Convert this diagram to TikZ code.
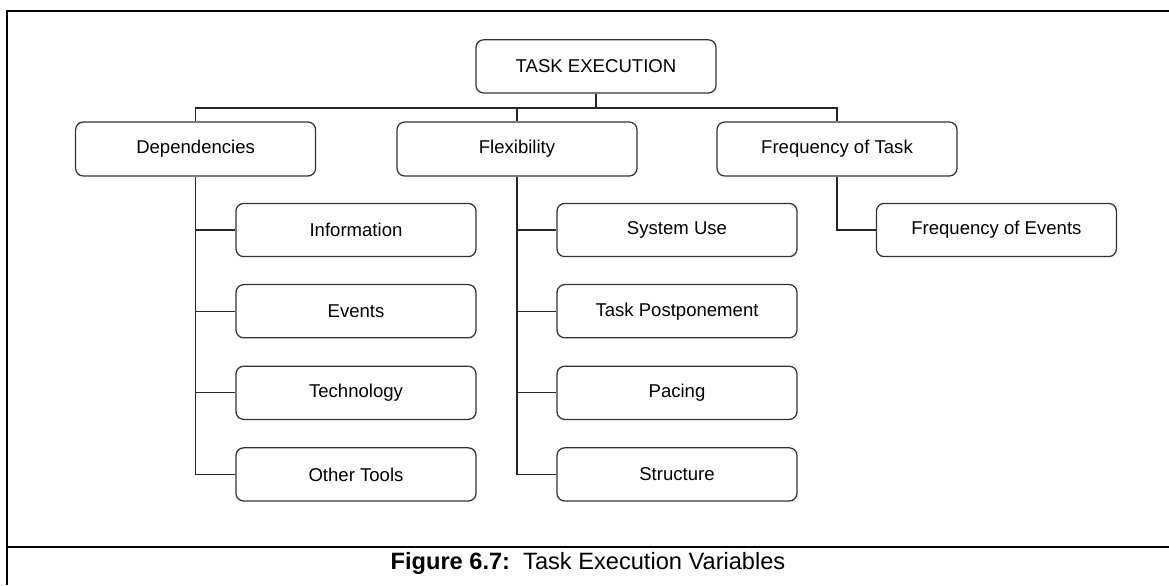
\documentclass[tikz,border=0pt]{standalone}
\usepackage{fontspec}
\setmainfont{Liberation Sans}

\begin{document}
\begin{tikzpicture}[
    box/.style={draw=black!80, line width=0.9pt, rounded corners=5.5pt,
      minimum width=6cm, minimum height=1.33cm,
      font=\fontsize{13.2}{15}\selectfont},
    link/.style={draw=black!85, line width=0.9pt},
    frame/.style={draw=black, line width=1.4pt}
  ]

    \useasboundingbox (0, 0) rectangle (29.225, -14.625);

    \coordinate (RC) at (14.9, -1.66);

    \coordinate (DC) at (4.89, -3.725);
    \coordinate (FC) at (12.925, -3.725);
    \coordinate (QC) at (20.925, -3.725);

    \coordinate (BUS) at (14.9, -2.7);

    \coordinate (FL) at (0.175, -0.275);
    \coordinate (FB) at (0.175, -14.625);
    \coordinate (FR) at (29.225, -0.275);
    \coordinate (SL) at (0.175, -13.675);
    \coordinate (SR) at (29.225, -13.675);

    \draw[frame] (FB) -- (FL) -- (FR);
    \draw[frame] (SL) -- (SR);

    \node[box] (task) at (RC) {TASK EXECUTION};

    \node[box, minimum height=1.35cm] (dep) at (DC) {Dependencies};
    \node[box, minimum height=1.35cm] (flex) at (FC) {Flexibility};
    \node[box, minimum height=1.35cm] (freq) at (QC) {Frequency of Task};

    \node[box] (info) at (8.9, -5.75) {Information};
    \node[box] (events) at (8.9, -7.78) {Events};
    \node[box] (tech) at (8.9, -9.82) {Technology};
    \node[box] (tools) at (8.9, -11.86) {Other Tools};

    \node[box] (sysuse) at (16.925, -5.75) {System Use};
    \node[box] (postpone) at (16.925, -7.78) {Task Postponement};
    \node[box] (pacing) at (16.925, -9.82) {Pacing};
    \node[box] (struct) at (16.925, -11.86) {Structure};

    \node[box] (freqev) at (24.91, -5.75) {Frequency of Events};

    \draw[link] (task.south) -- (BUS);
    \draw[link] (dep.north) |- (BUS) -| (freq.north);
    \draw[link] (flex.north) -- (flex.north |- BUS);

    \draw[link] (dep.south) |- (tools.west);
    \foreach \kid in {info, events, tech}
      \draw[link] (dep.south |- \kid.west) -- (\kid.west);
    \draw[link] (flex.south) |- (struct.west);
    \foreach \kid in {sysuse, postpone, pacing}
      \draw[link] (flex.south |- \kid.west) -- (\kid.west);
    \draw[link] (freq.south) |- (freqev.west);

    \node[anchor=base] (caption) at (14.7, -14.225)
      {\fontsize{16.8}{20}\selectfont\textbf{Figure 6.7:}\ \ Task Execution Variables};

  \end{tikzpicture}
\end{document}
